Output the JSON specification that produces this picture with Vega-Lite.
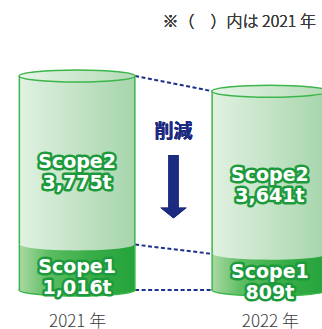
{
  "$schema": "https://vega.github.io/schema/vega-lite/v6.json",
  "width": 347,
  "height": 290,
  "autosize": "none",
  "padding": {"left": 0, "top": 0, "right": 0, "bottom": 39},
  "background": "white",
  "config": {"view": {"stroke": null}},
  "data": {"values": [
    {"year": "2021 年", "scope": "Scope1", "value": 1016, "label": "1,016t"},
    {"year": "2021 年", "scope": "Scope2", "value": 3775, "label": "3,775t"},
    {"year": "2022 年", "scope": "Scope1", "value": 809, "label": "809t"},
    {"year": "2022 年", "scope": "Scope2", "value": 3641, "label": "3,641t"}
  ]},
  "transform": [
    {"stack": "value", "groupby": ["year"], "sort": [{"field": "scope", "order": "ascending"}], "as": ["y0", "y1"]},
    {"calculate": "(datum.y0 + datum.y1) / 2 - (datum.scope == 'Scope1' ? 0 : 45)", "as": "labelY"},
    {"calculate": "datum.scope + '\\n' + datum.label", "as": "txt"}
  ],
  "layer": [
    {
      "transform": [{"pivot": "year", "value": "y1", "groupby": ["scope"]}],
      "mark": {"type": "rule", "xOffset": 58, "x2Offset": -58, "strokeDash": [4, 2.5], "strokeWidth": 2, "color": "#1e2f8a"},
      "encoding": {
        "x": {"datum": "2021 年", "type": "nominal", "scale": {"type": "point", "domain": ["2021 年", "削減", "2022 年"], "padding": 0.8},
          "axis": {"title": null, "domain": false, "ticks": false, "grid": false, "labelPadding": 23, "labelFontSize": 17, "labelFontWeight": 300, "labelColor": "#3a3a3a", "labelFont": "Noto Sans CJK JP", "labelAngle": 0, "labelExpr": "datum.label == '削減' ? '' : datum.label"}},
        "x2": {"datum": "2022 年"},
        "y": {"field": "2021 年", "type": "quantitative", "scale": {"domain": [0, 6490], "nice": false}, "axis": null},
        "y2": {"field": "2022 年"}
      }
    },
    {
      "transform": [{"filter": "datum.scope == 'Scope1'"}, {"pivot": "year", "value": "y1", "groupby": ["scope"]}],
      "mark": {"type": "rule", "xOffset": 58, "x2Offset": -58, "strokeDash": [4, 2.5], "strokeWidth": 2, "color": "#1e2f8a"},
      "encoding": {
        "x": {"datum": "2021 年", "type": "nominal"},
        "x2": {"datum": "2022 年"},
        "y": {"datum": 0, "type": "quantitative"}
      }
    },
    {
      "transform": [{"filter": "datum.scope == 'Scope1'"}],
      "mark": {"type": "point", "shape": "M -1 0 C -1 -0.0571 -0.5523 -0.1034 0 -0.1034 C 0.5523 -0.1034 1 -0.0571 1 0 C 1 0.0571 0.5523 0.1034 0 0.1034 C -0.5523 0.1034 -1 0.0571 -1 0 Z", "size": 13456, "filled": true, "opacity": 1,
        "fill": {"gradient": "linear", "x1": 0, "x2": 1, "y1": 0, "y2": 0, "stops": [{"offset": 0, "color": "#a9d8a2"}, {"offset": 0.25, "color": "#5cbd62"}, {"offset": 0.6, "color": "#3aae48"}, {"offset": 1, "color": "#25a33b"}]},
        "stroke": "#3cb64a", "strokeWidth": 1.5},
      "encoding": {
        "x": {"field": "year", "type": "nominal"},
        "y": {"datum": 0, "type": "quantitative"}
      }
    },
    {
      "mark": {"type": "bar", "width": 117, "fill": "#3cb64a"},
      "encoding": {
        "x": {"field": "year", "type": "nominal"},
        "y": {"field": "y1", "type": "quantitative"},
        "y2": {"field": "y0"}
      }
    },
    {
      "transform": [{"filter": "datum.scope == 'Scope1'"}],
      "mark": {"type": "bar", "width": 114,
        "fill": {"gradient": "linear", "x1": 0, "x2": 1, "y1": 0, "y2": 0, "stops": [{"offset": 0, "color": "#a9d8a2"}, {"offset": 0.25, "color": "#5cbd62"}, {"offset": 0.6, "color": "#3aae48"}, {"offset": 1, "color": "#25a33b"}]}},
      "encoding": {
        "x": {"field": "year", "type": "nominal"},
        "y": {"field": "y1", "type": "quantitative"},
        "y2": {"field": "y0"}
      }
    },
    {
      "transform": [{"filter": "datum.scope == 'Scope2'"}],
      "mark": {"type": "bar", "width": 114,
        "fill": {"gradient": "linear", "x1": 0, "x2": 1, "y1": 0, "y2": 0, "stops": [{"offset": 0, "color": "#e0f1e1"}, {"offset": 1, "color": "#a6d5ab"}]}},
      "encoding": {
        "x": {"field": "year", "type": "nominal"},
        "y": {"field": "y1", "type": "quantitative"},
        "y2": {"field": "y0"}
      }
    },
    {
      "transform": [{"filter": "datum.scope == 'Scope1'"}],
      "mark": {"type": "point", "shape": "M -1 0 C -1 -0.0571 -0.5523 -0.1034 0 -0.1034 C 0.5523 -0.1034 1 -0.0571 1 0 C 1 0.0571 0.5523 0.1034 0 0.1034 C -0.5523 0.1034 -1 0.0571 -1 0 Z", "size": 12996, "filled": true, "opacity": 1, "strokeWidth": 0,
        "fill": {"gradient": "linear", "x1": 0, "x2": 1, "y1": 0, "y2": 0, "stops": [{"offset": 0, "color": "#e0f1e1"}, {"offset": 1, "color": "#a6d5ab"}]}},
      "encoding": {
        "x": {"field": "year", "type": "nominal"},
        "y": {"field": "y1", "type": "quantitative"}
      }
    },
    {
      "transform": [{"filter": "datum.scope == 'Scope2'"}],
      "mark": {"type": "point", "shape": "M -1 0 C -1 -0.0571 -0.5523 -0.1034 0 -0.1034 C 0.5523 -0.1034 1 -0.0571 1 0 C 1 0.0571 0.5523 0.1034 0 0.1034 C -0.5523 0.1034 -1 0.0571 -1 0 Z", "size": 13456, "filled": true, "opacity": 1,
        "fill": {"gradient": "linear", "x1": 0, "x2": 1, "y1": 0, "y2": 0, "stops": [{"offset": 0, "color": "#e6f4e7"}, {"offset": 1, "color": "#b3dbb6"}]},
        "stroke": "#3cb64a", "strokeWidth": 1.5},
      "encoding": {
        "x": {"field": "year", "type": "nominal"},
        "y": {"field": "y1", "type": "quantitative"}
      }
    },
    {
      "mark": {"type": "rule", "strokeWidth": 10, "color": "#1c2b80"},
      "encoding": {
        "x": {"datum": "削減", "type": "nominal"},
        "y": {"datum": 3020, "type": "quantitative"},
        "y2": {"datum": 1812}
      }
    },
    {
      "mark": {"type": "point", "shape": "M -1 -0.4 L 1 -0.4 L 0 0.4 Z", "size": 676, "filled": true, "opacity": 1, "fill": "#1c2b80", "strokeWidth": 0},
      "encoding": {
        "x": {"datum": "削減", "type": "nominal"},
        "y": {"datum": 1723, "type": "quantitative"}
      }
    },
    {
      "mark": {"type": "text", "text": "削減", "font": "Noto Sans CJK JP", "fontWeight": "bold", "fontSize": 19, "color": "#1c2b80", "baseline": "middle", "align": "center"},
      "encoding": {
        "x": {"datum": "削減", "type": "nominal"},
        "y": {"datum": 3535, "type": "quantitative"}
      }
    },
    {
      "mark": {"type": "text", "font": "DejaVu Sans", "fontWeight": "bold", "fontSize": 19, "lineBreak": "\n", "lineHeight": 21, "baseline": "middle", "align": "center", "fill": "#1d9a3c", "stroke": "#1d9a3c", "strokeWidth": 5, "strokeJoin": "round"},
      "encoding": {
        "x": {"field": "year", "type": "nominal"},
        "y": {"field": "labelY", "type": "quantitative"},
        "text": {"field": "txt"}
      }
    },
    {
      "mark": {"type": "text", "font": "DejaVu Sans", "fontWeight": "bold", "fontSize": 19, "lineBreak": "\n", "lineHeight": 21, "baseline": "middle", "align": "center", "fill": "white"},
      "encoding": {
        "x": {"field": "year", "type": "nominal"},
        "y": {"field": "labelY", "type": "quantitative"},
        "text": {"field": "txt"}
      }
    },
    {
      "mark": {"type": "text", "text": "※（　）内は 2021 年", "font": "Noto Sans CJK JP", "fontSize": 16, "fontWeight": 300, "color": "#3a3a3a", "baseline": "middle", "align": "right", "dx": 46},
      "encoding": {
        "x": {"datum": "2022 年", "type": "nominal"},
        "y": {"datum": 5996, "type": "quantitative"}
      }
    }
  ]
}
